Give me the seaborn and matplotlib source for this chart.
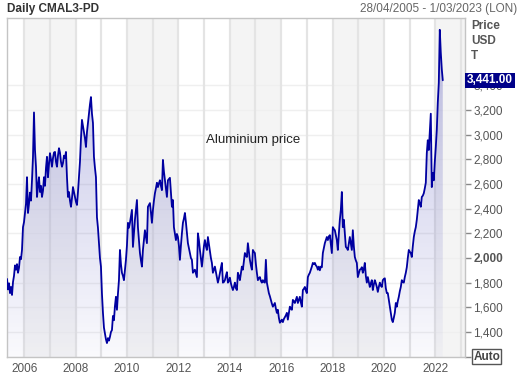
import numpy as np
import pandas as pd
import seaborn as sns
import matplotlib.pyplot as plt
import matplotlib.dates as mdates
import matplotlib.transforms as mtransforms
from datetime import date

# CMAL3 aluminium price (USD/T), roughly two-weekly
prices = [
    1830, 1745, 1795, 1715, 1765, 1700, 1805,
    1855, 1940, 1905, 1950, 1880, 1920, 2008, 1990, 2065,
    2250, 2290, 2365, 2440, 2655, 2365, 2440, 2530,
    2465, 2630, 2820, 3180, 2875, 2740, 2495, 2585, 2655, 2535,
    2585, 2495, 2545, 2655, 2585, 2730, 2820, 2655, 2760, 2850,
    2800, 2740, 2810, 2855, 2860, 2780, 2740, 2830, 2890, 2855,
    2780, 2740, 2770, 2830, 2810, 2860, 2655, 2495, 2535, 2465,
    2415, 2485, 2575, 2535, 2495, 2455, 2430, 2535, 2655, 2780,
    2970, 3120, 3070, 3015, 2970, 2900, 3020, 3095, 3170, 3245,
    3305, 3170, 3095, 2820, 2730, 2655, 2330, 2245, 2120, 2000,
    1930, 1710, 1555, 1435, 1390, 1340, 1310, 1350, 1330, 1360,
    1400, 1415, 1530, 1495, 1610, 1685, 1580, 1710, 1820, 2065,
    1950, 1880, 1855, 1820, 1905, 1985, 2100, 2285, 2245, 2285,
    2340, 2390, 2090, 2195, 2310, 2390, 2470, 2250, 2145, 2040,
    1980, 1930, 2065, 2145, 2225, 2175, 2120, 2415, 2430, 2445,
    2370, 2285, 2390, 2465, 2525, 2565, 2610, 2575, 2605, 2630,
    2585, 2550, 2795, 2700, 2630, 2565, 2495, 2630, 2640, 2650,
    2535, 2415, 2470, 2250, 2200, 2145, 2195, 2170, 2100, 1985,
    2100, 2200, 2285, 2320, 2365, 2290, 2200, 2120, 2080, 2040,
    2000, 1985, 1880, 1895, 1905, 1875, 1845, 2200, 2145, 2065,
    2000, 1930, 2008, 2095, 2145, 2095, 2065, 2170, 2115, 2065,
    2000, 1960, 1880, 1905, 1930, 1885, 1845, 1800, 1835, 1880,
    1920, 1960, 1800, 1805, 1820, 1855, 1885, 1800, 1815, 1840,
    1795, 1765, 1740, 1765, 1800, 1755, 1740, 1880, 1855, 1820,
    1875, 1930, 1905, 1970, 2040, 2020, 2008, 2120, 2050, 1985,
    1940, 1905, 2065, 2050, 2040, 1950, 1880, 1820, 1835, 1845,
    1815, 1800, 1820, 1805, 1800, 1985, 1800, 1755, 1715, 1690,
    1660, 1630, 1605, 1620, 1635, 1590, 1555, 1580, 1515, 1475,
    1485, 1500, 1480, 1505, 1520, 1535, 1555, 1500, 1555, 1605,
    1590, 1580, 1660, 1650, 1635, 1660, 1685, 1635, 1660, 1685,
    1640, 1605, 1740, 1750, 1765, 1735, 1715, 1845, 1865, 1880,
    1905, 1930, 1960, 1950, 1960, 1940, 1930, 1905, 1930, 1900,
    1930, 1925, 2040, 2080, 2120, 2145, 2170, 2145, 2175, 2185,
    2115, 2040, 2250, 2235, 2225, 2185, 2145, 2065, 2195, 2310,
    2390, 2535, 2250, 2310, 2195, 2090, 2080, 2065, 2115, 2170,
    2115, 2065, 2225, 2095, 2008, 1980, 1960, 1845, 1875, 1905,
    1910, 1925, 1880, 1910, 1960, 1855, 1800, 1845, 1805, 1765,
    1795, 1820, 1740, 1785, 1820, 1795, 1765, 1725, 1765, 1800,
    1775, 1765, 1820, 1830, 1835, 1755, 1715, 1715, 1660, 1605,
    1545, 1500, 1480, 1515, 1555, 1635, 1605, 1650, 1685, 1730,
    1765, 1820, 1805, 1800, 1845, 1880, 1925, 2000, 2065, 2050,
    2040, 2008, 2095, 2170, 2215, 2250, 2310, 2390, 2470, 2440,
    2415, 2495, 2505, 2525, 2565, 2610, 2850, 2955, 2875, 3020,
    3170, 2575, 2690, 2630, 2780, 2900, 3040, 3260, 3420, 3850,
    3665, 3530, 3441,
]
first_day = "2005-04-28"
last_day = "2022-04-19"
range_end = "2023-03-01"
last_price = 3441.00
yticks = [1200, 1400, 1600, 1800, 2000, 2200, 2400, 2600, 2800, 3000, 3200, 3400]
label_years = list(range(2006, 2023, 2))

df = pd.DataFrame({"date": pd.date_range(first_day, last_day, periods=len(prices)),
                   "price": prices})

sns.set_style("white")
plt.rcParams['font.family'] = ['Liberation Sans', 'DejaVu Sans']

fig = plt.figure(figsize=(5.21, 3.74), dpi=100)
ax = fig.add_axes([7/521, 17/374, 458/521, 339/374])

x0 = pd.Timestamp(first_day)
x1 = pd.Timestamp(range_end)
ylo, yhi = 1197, 3946

# alternating two-year bands
for y in range(2006, 2024, 4):
    ax.axvspan(pd.Timestamp(date(y, 1, 1)), min(pd.Timestamp(date(y + 2, 1, 1)), x1),
               color='#f4f4f4', lw=0, zorder=0)

# year gridlines and price gridlines
for y in range(2006, 2024):
    ax.axvline(pd.Timestamp(date(y, 1, 1)), color='#e4e4e4', lw=1.6, zorder=0.5)
for v in yticks:
    ax.axhline(v, color='#efefef', lw=1, zorder=0.4)

# gradient fill under line
poly = ax.fill_between(df["date"], df["price"], ylo, color='none', lw=0)
grad = np.zeros((256, 1, 4))
grad[:, :, 0] = 0.30
grad[:, :, 1] = 0.30
grad[:, :, 2] = 0.72
grad[:, 0, 3] = np.linspace(0.36, 0.03, 256)
im = ax.imshow(grad, aspect='auto', origin='upper', zorder=1,
               extent=[mdates.date2num(x0), mdates.date2num(x1), ylo, yhi])
im.set_clip_path(poly.get_paths()[0], transform=ax.transData)

sns.lineplot(data=df, x="date", y="price", ax=ax, color='#0000a0', lw=1.3, zorder=3)

ax.set_xlim(x0, x1)
ax.set_ylim(ylo, yhi)
ax.set_xlabel("")
ax.set_ylabel("")

ax.set_xticks([pd.Timestamp(date(y, 1, 1)) for y in label_years],
              labels=[str(y) for y in label_years])
# the 1,200 label sits under the "Auto" box in the reference
ax.set_yticks(yticks, labels=["" if v == 1200 else f"{v:,}" for v in yticks])
ax.yaxis.tick_right()
ax.tick_params(axis='x', direction='out', length=3, width=1, color='#888888',
               labelcolor='#555555', labelsize=8.5, pad=1)
ax.tick_params(axis='y', direction='out', length=4, width=1, color='#888888',
               labelcolor='#555555', labelsize=8.5, pad=2)
for lbl in ax.get_yticklabels():
    if lbl.get_text() == "2,000":
        lbl.set_fontweight('bold')

for s in ax.spines.values():
    s.set_color('#c4c4c4')
    s.set_linewidth(1)

ax.text(pd.Timestamp("2014-12-01"), 2957, "Aluminium price", ha='center', va='center',
        fontsize=9.5, color='#222222', zorder=5)

blend = mtransforms.blended_transform_factory(ax.transAxes, ax.transData)
ax.text(1.004, last_price, f"{last_price:,.2f}", transform=blend, ha='left', va='center',
        color='white', fontweight='bold', fontsize=8.5, clip_on=False, zorder=10,
        bbox=dict(boxstyle='square,pad=0.15', fc='#000088', ec='none'))
ax.text(1.018, 1200, "Auto", transform=blend, ha='left', va='center',
        color='#444444', fontweight='bold', fontsize=8.5, clip_on=False, zorder=10,
        bbox=dict(boxstyle='square,pad=0.1', fc='white', ec='#555555', lw=1))

fig.text(471/521, 1 - 26/374, "Price", fontsize=8.5, fontweight='bold', color='#555555', va='center')
fig.text(471/521, 1 - 41/374, "USD", fontsize=8.5, fontweight='bold', color='#555555', va='center')
fig.text(471/521, 1 - 56/374, "T", fontsize=8.5, fontweight='bold', color='#555555', va='center')

fig.text(7/521, 1 - 9/374, "Daily CMAL3-PD", fontsize=8.5, fontweight='bold', color='#333333', va='center')
fig.text(517/521, 1 - 9/374, "28/04/2005 - 1/03/2023 (LON)", fontsize=8.5, color='#666666',
         va='center', ha='right')

fig.savefig("out.png", dpi=100, facecolor='white')
